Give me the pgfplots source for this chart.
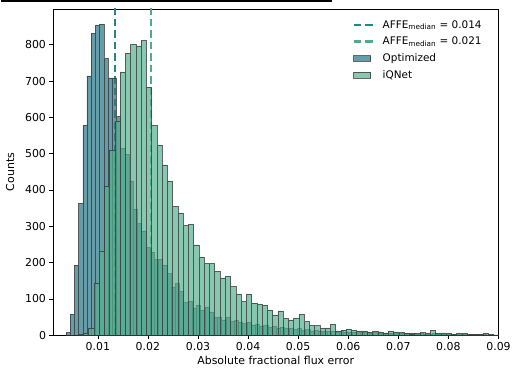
\documentclass[border=0pt]{standalone}
\usepackage{pgfplots}
\pgfplotsset{compat=1.18}
\usepackage{fontspec}
\setmainfont{DejaVu Sans}
\definecolor{optC}{RGB}{42,120,135}
\definecolor{iqC}{RGB}{86,176,142}
\definecolor{medteal}{RGB}{38,132,140}
\definecolor{medgreen}{RGB}{80,172,136}
\pgfplotsset{medlineA/.style={legend image code/.code={\draw[medteal, line width=2.4pt, dash pattern=on 7.5pt off 4pt] (0pt,0pt) -- (22pt,0pt);}},
  medlineB/.style={legend image code/.code={\draw[medgreen, line width=2.4pt, dash pattern=on 7.5pt off 4pt] (0pt,0pt) -- (22pt,0pt);}}}
\begin{document}
\begin{tikzpicture}
\begin{axis}[
  name=ax,
  width=448pt, height=328pt, scale only axis,
  xmin=0.00104, xmax=0.09, ymin=0, ymax=898.6,
  scaled x ticks=false,
  xtick={0.01,0.02,0.03,0.04,0.05,0.06,0.07,0.08,0.09},
  xticklabels={0.01,0.02,0.03,0.04,0.05,0.06,0.07,0.08,0.09},
  ytick={0,100,200,300,400,500,600,700,800},
  tick align=outside, xtick pos=bottom, ytick pos=left,
  major tick length=3.5pt,
  tick style={black, line width=0.6pt},
  axis line style={line width=0.6pt},
  /pgf/number format/assume math mode=true,
  font=\fontsize{11}{13}\selectfont,
  xlabel={Absolute fractional flux error},
  ylabel={Counts},
  xlabel style={yshift=1pt},
  ylabel style={yshift=4pt},
  legend style={draw=none, fill=none, at={(0.665,0.978)}, anchor=north west,
    font=\fontsize{10.5}{12}\selectfont, row sep=3.5pt, column sep=4pt, cells={anchor=west}},
  legend cell align=left,
  clip=true,
]
\addplot[color=medteal, line width=2.4pt, dash pattern=on 7.5pt off 4pt, medlineA] coordinates {(0.01345,0) (0.01345,900)};
\addlegendentry{AFFE\textsubscript{median} = 0.014}
\addplot[color=medgreen, line width=2.4pt, dash pattern=on 7.5pt off 4pt, medlineB] coordinates {(0.02056,0) (0.02056,900)};
\addlegendentry{AFFE\textsubscript{median} = 0.021}
\addplot[ybar interval, fill=optC, fill opacity=0.72, draw=black!80, draw opacity=0.75, line width=0.5pt, area legend] table {
x y
0.00363 7
0.00447 57
0.00531 193
0.00615 363
0.00699 578
0.00783 714
0.00867 831
0.00951 853
0.01035 857
0.01119 762
0.01203 709
0.01287 709
0.01371 602
0.01455 514
0.01539 499
0.01623 425
0.01707 348
0.01791 307
0.01875 287
0.01959 241
0.02043 229
0.02127 209
0.02211 209
0.02295 193
0.02379 170
0.02463 133
0.02547 142
0.02631 120
0.02715 90
0.02799 94
0.02883 74
0.02967 83
0.03051 69
0.03135 78
0.03219 64
0.03303 49
0.03387 50
0.03471 42
0.03555 48
0.03639 38
0.03723 40
0.03807 36
0.03891 32
0.03975 36
0.04059 28
0.04143 30
0.04227 24
0.04311 26
0.04395 22
0.04479 25
0.04563 20
0.04647 22
0.04731 18
0.04815 20
0.04899 16
0.04983 18
0.05067 14
0.05151 15
0.05235 12
0.05319 13
0.05403 11
0.05487 12
0.05571 10
0.05655 11
0.05739 9
0.05823 10
0.05907 8
0.05991 9
0.06075 8
0.06159 7
0.06243 8
0.06327 7
0.06411 6
0.06495 7
0.06579 6
0.06663 5
0.06747 6
0.06831 5
0.06915 5
0.06999 4
0.07083 5
0.07167 4
0.07251 4
0.07335 3
0.07419 4
0.07503 3
0.07587 3
0.07671 4
0.07755 3
0.07839 3
0.07923 2
0.08007 3
0.08091 2
0.08175 2
0.08259 3
0.08343 2
0.08427 2
0.08511 2
0.08595 1
0.08679 2
0.08763 1
0.08847 1
0.08931 1
0.09015 1
};
\addlegendentry{Optimized}
\addplot[ybar interval, fill=iqC, fill opacity=0.7, draw=black!80, draw opacity=0.75, line width=0.5pt, area legend] table {
x y
0.00604 2
0.00709 5
0.00814 18
0.00919 142
0.01024 232
0.01129 409
0.01234 510
0.01339 590
0.01444 725
0.01549 777
0.01654 800
0.01759 797
0.01864 811
0.01969 683
0.02074 578
0.02179 523
0.02284 469
0.02389 424
0.02494 355
0.02599 337
0.02704 302
0.02809 305
0.02914 249
0.03019 215
0.03124 197
0.03229 197
0.03334 176
0.03439 158
0.03544 162
0.03649 134
0.03754 114
0.03859 92
0.03964 114
0.04069 88
0.04174 85
0.04279 83
0.04384 69
0.04489 56
0.04594 67
0.04699 46
0.04804 42
0.04909 46
0.05014 57
0.05119 37
0.05224 26
0.05329 26
0.05434 20
0.05539 20
0.05644 30
0.05749 11
0.05854 14
0.05959 17
0.06064 14
0.06169 12
0.06274 12
0.06379 7
0.06484 11
0.06589 9
0.06694 5
0.06799 11
0.06904 9
0.07009 7
0.07114 5
0.07219 2
0.07324 5
0.07429 7
0.07534 6
0.07639 14
0.07744 6
0.07849 6
0.07954 5
0.08059 3
0.08164 5
0.08269 5
0.08374 3
0.08479 3
0.08584 3
0.08689 5
0.08794 3
0.08899 1
0.09004 1
};
\addlegendentry{iQNet}
\end{axis}
\draw[line width=2.5pt, black] ([xshift=-52pt,yshift=7.75pt]ax.north west) -- ([xshift=281pt,yshift=7.75pt]ax.north west);
\useasboundingbox ([xshift=-52pt,yshift=9pt]ax.north west) rectangle ([xshift=14pt,yshift=-35pt]ax.south east);
\end{tikzpicture}
\end{document}
